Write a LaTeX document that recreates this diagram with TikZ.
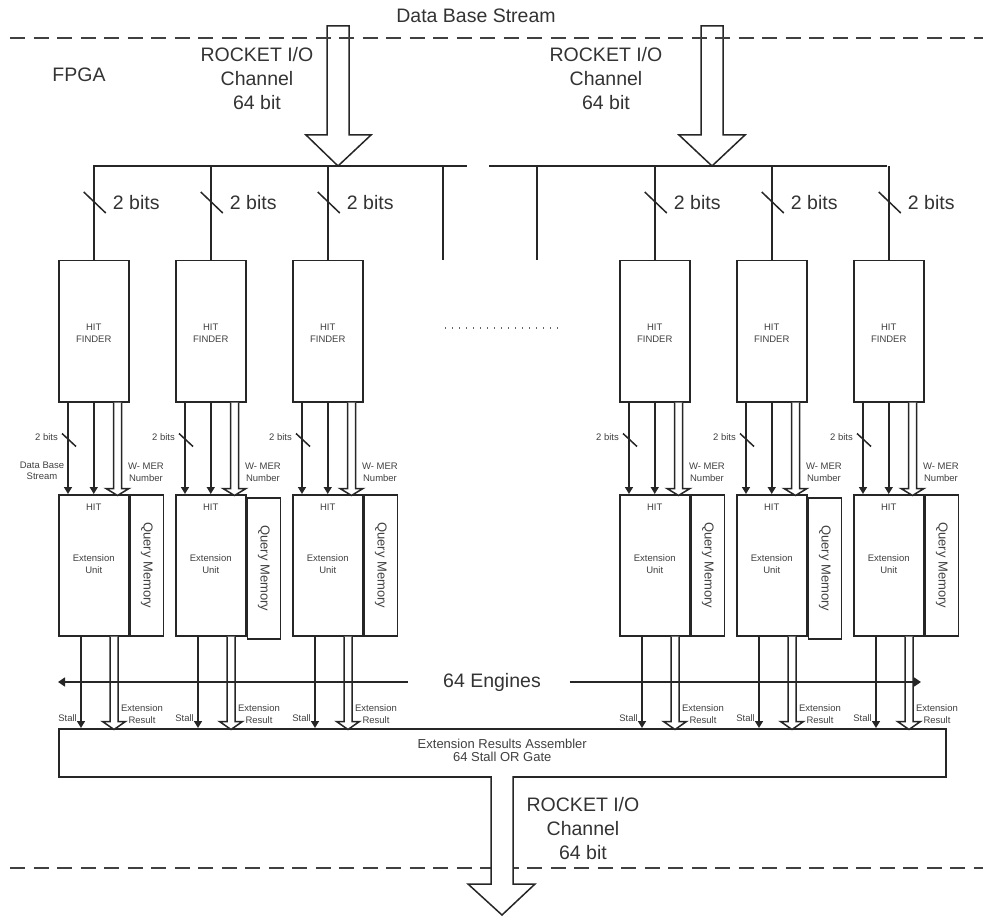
\documentclass[tikz,border=0pt]{standalone}
\usepackage{fontspec}
\setmainfont{Liberation Sans}
\usetikzlibrary{arrows.meta,calc}
\newcommand\hollowdown[5]{% #1 start coordinate, #2 length, #3 shaft half, #4 head half, #5 head length
  \draw[ln, fill=white] ($(#1)+(-#3,0)$) -- ++(0,{#2-#5}) -- ++({-(#4-#3)},0) -- ++(#4,#5) -- ++(#4,{-#5}) -- ++({-(#4-#3)},0) -- ++(0,{-(#2-#5)});}
\begin{document}
\begin{tikzpicture}[x=1pt,y=-1pt,
  ln/.style={line width=1.5pt, draw=black!85},
  box/.style={draw=black!85, line width=1.5pt, rectangle, anchor=north west, inner sep=0pt, minimum width=70pt, minimum height=141pt},
  qbox/.style={draw=black!85, line width=1.5pt, rectangle, anchor=north west, inner sep=0pt, minimum width=33pt, minimum height=141pt},
  big/.style={font=\fontsize{19.5}{24}\selectfont, text=black!80, align=center, inner sep=0pt},
  sml/.style={font=\fontsize{9.5}{11.5}\selectfont, text=black!75, align=center, inner sep=0pt},
  mid/.style={font=\fontsize{13}{13.5}\selectfont, text=black!75, align=center, inner sep=0pt},
  sarr/.style={ln, -{Triangle[length=7pt,width=8pt]}},
  dashline/.style={line width=1.6pt, draw=black!75, dash pattern=on 15pt off 8.5pt}]
\useasboundingbox (0,0) rectangle (983,917);

% top labels
\node[big] (dbs) at (476,16) {Data Base Stream};
\node[big] (fpga) at (79,75) {FPGA};
\node[big] (rio1) at (257,79) {ROCKET I/O\\Channel\\64 bit};
\node[big] (rio2) at (606,79) {ROCKET I/O\\Channel\\64 bit};

% big input arrows
\draw[ln, fill=white] (327,26) -- (349,26) -- (349,135) -- (371,135) -- (338,166) -- (306,135) -- (327,135) -- cycle;
\draw[ln, fill=white] (701,26) -- (723,26) -- (723,135) -- (745,135) -- (712,166) -- (679,135) -- (701,135) -- cycle;
\draw[dashline] (10,38) -- (983,38);

% bus
\coordinate (busL1) at (93,166);
\coordinate (busL2) at (467,166);
\coordinate (busR1) at (489,166);
\coordinate (busR2) at (887,166);
\draw[ln] (busL1) -- (busL2);
\draw[ln] (busR1) -- (busR2);
\coordinate (stubA) at (443,166);
\coordinate (stubB) at (537,166);
\draw[ln] (stubA) -- ++(0,94);
\draw[ln] (stubB) -- ++(0,94);

% dotted continuation
\coordinate (dotA) at (445,328);
\coordinate (dotB) at (560,328);
\draw[line width=1.4pt, draw=black!60, dash pattern=on 1.4pt off 5.6pt] (dotA) -- (dotB);

% assembler
\node[draw=black!85, line width=1.5pt, rectangle, anchor=north west, inner sep=0pt, minimum width=887pt, minimum height=48pt] (asm) at (58,728) {};
\node[mid] at ($(asm.center)+(0,-2.5)$) {Extension Results Assembler\\64 Stall OR Gate};

% engines
\foreach \i/\L/\d in {1/58/0,2/175/3,3/292/0,4/619/0,5/736/3,6/853/0}{
  \node[box] (hf\i) at (\L,260) {};
  \node[sml] at ($(hf\i.center)+(0,2)$) {HIT\\FINDER};
  \node[box] (eu\i) at (\L,494) {};
  \node[qbox] (qm\i) at ($(eu\i.north east)+(0,\d)$) {};
  \node[sml] at ($(eu\i.north)+(0,13)$) {HIT};
  \node[sml] at ($(eu\i.center)+(0,-1)$) {Extension\\Unit};
  \node[mid, rotate=-90] at (qm\i.center) {Query Memory};
  % from bus
  \draw[ln] (hf\i.north) -- ++(0,-94);
  \draw[ln] ($(hf\i.north)+(-10,-68)$) -- ($(hf\i.north)+(12,-47)$);
  \node[big, anchor=west] at ($(hf\i.north)+(19,-57)$) {2 bits};
  % hit finder -> extension unit
  \draw[sarr] ($(hf\i.south west)+(10,0)$) -- ($(eu\i.north west)+(10,0)$);
  \draw[ln] ($(hf\i.south west)+(4,31)$) -- ($(hf\i.south west)+(18,44)$);
  \node[sml, anchor=east] at ($(hf\i.south west)+(0,35)$) {2 bits};
  \draw[sarr] (hf\i.south) -- (eu\i.north);
  \coordinate (wm\i) at ($(hf\i.south west)+(59.5,0)$);
  \hollowdown{wm\i}{93}{4}{11.5}{7}
  \node[sml] at ($(hf\i.south west)+(88,70)$) {W- MER\\Number};
  % extension unit -> assembler
  \coordinate (st\i) at ($(eu\i.south west)+(23,0)$);
  \draw[sarr] (st\i) -- (st\i |- asm.north);
  \coordinate (er\i) at ($(eu\i.south west)+(56,0)$);
  \hollowdown{er\i}{93}{4}{11.5}{8}
  \node[sml, anchor=east] at ($(eu\i.south west)+(19,82)$) {Stall};
  \node[sml] at ($(eu\i.south west)+(84,77.5)$) {Extension\\Result};
}
\node[sml] at (42,471) {Data Base\\Stream};

% 64 engines
\node[big] (eng) at (492,682) {64 Engines};
\coordinate (engL) at (58,682);
\coordinate (engR) at (921,682);
\draw[ln, -{Triangle[length=7pt,width=9pt]}] ($(eng.west)+(-35,0)$) -- (engL);
\draw[ln, -{Triangle[length=7pt,width=9pt]}] ($(eng.east)+(29,0)$) -- (engR);

% output
\draw[dashline] (10,868) -- (983,868);
\draw[ln, fill=white] (491,776) -- (491,884) -- (468,884) -- (502,915) -- (535,884) -- (513,884) -- (513,776);
\node[big] (rio3) at (583,829) {ROCKET I/O\\Channel\\64 bit};
\end{tikzpicture}
\end{document}
